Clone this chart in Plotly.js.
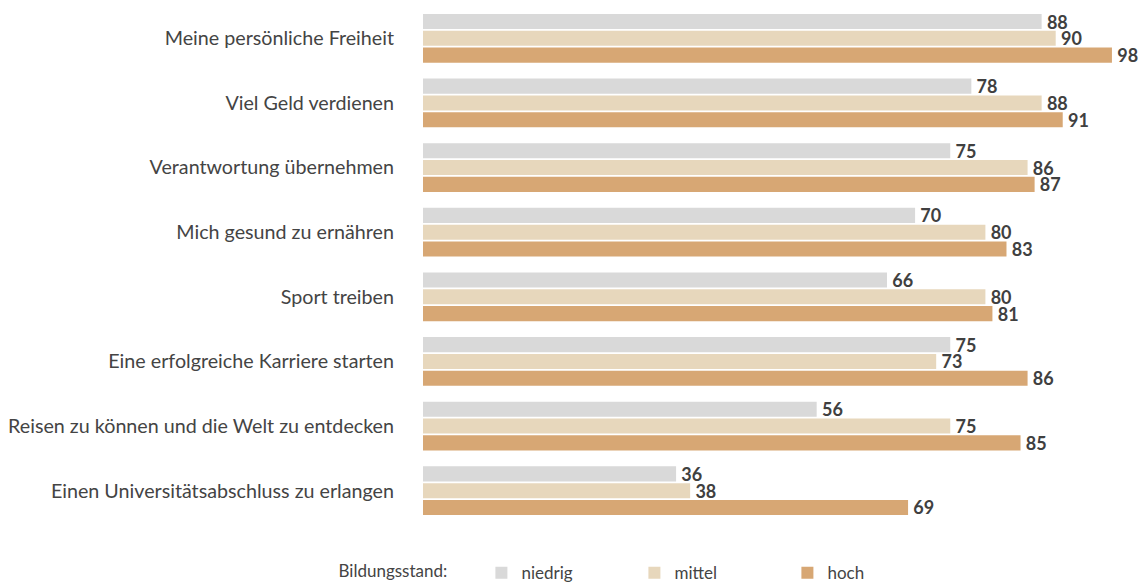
<!DOCTYPE html>
<html><head><meta charset="utf-8">
<script src="https://cdn.plot.ly/plotly-3.0.1.min.js"></script>
<style>html,body{margin:0;padding:0;background:#fff}#chart{width:1146px;height:582px}</style>
</head><body><div id="chart"></div>
<script>
const categories = [
  "Meine persönliche Freiheit",
  "Viel Geld verdienen",
  "Verantwortung übernehmen",
  "Mich gesund zu ernähren",
  "Sport treiben",
  "Eine erfolgreiche Karriere starten",
  "Reisen zu können und die Welt zu entdecken",
  "Einen Universitätsabschluss zu erlangen"
];
const niedrig = [88, 78, 75, 70, 66, 75, 56, 36];
const mittel  = [90, 88, 86, 80, 80, 73, 75, 38];
const hoch    = [98, 91, 87, 83, 81, 86, 85, 69];
const seriesNames = ["niedrig", "mittel", "hoch"];
const colors = ["#d9d9d9", "#e7d7bc", "#d7a774"];

const data = [niedrig, mittel, hoch].map((vals, i) => ({
  type: 'bar', orientation: 'h',
  name: seriesNames[i],
  x: vals, y: categories,
  marker: {color: colors[i]},
  text: vals.map(v => '\u2009' + v),
  textposition: 'outside',
  constraintext: 'none',
  cliponaxis: false,
  textfont: {family: 'Lato', size: 18, color: '#404040', weight: 'bold'},
  hoverinfo: 'x+y'
}));

const layout = {
  width: 1146, height: 582,
  margin: {l: 423, r: 20, t: 6, b: 59},
  paper_bgcolor: '#fff', plot_bgcolor: '#fff',
  barmode: 'group', bargap: 0.22, bargroupgap: 0.1,
  font: {family: 'Lato', color: '#444'},
  xaxis: {range: [0, 100], visible: false, showgrid: false, zeroline: false, fixedrange: true},
  yaxis: {autorange: 'reversed', showgrid: false, zeroline: false, showline: false, automargin: false,
          ticks: '', ticklabelstandoff: 28, tickfont: {family: 'Lato', size: 19.7, color: '#444'}},
  showlegend: true,
  legend: {orientation: 'h', xref: 'paper', x: -0.123, xanchor: 'left',
           yref: 'container', y: 0.015, yanchor: 'middle',
           font: {family: 'Lato', size: 17, color: '#444'},
           title: {text: 'Bildungsstand:\u00a0\u00a0\u00a0\u00a0\u00a0\u00a0', side: 'left', font: {family: 'Lato', size: 17, color: '#444'}},
           entrywidth: 108, traceorder: 'normal'}
};
Plotly.newPlot('chart', data, layout, {displayModeBar: false, staticPlot: true});
</script></body></html>
